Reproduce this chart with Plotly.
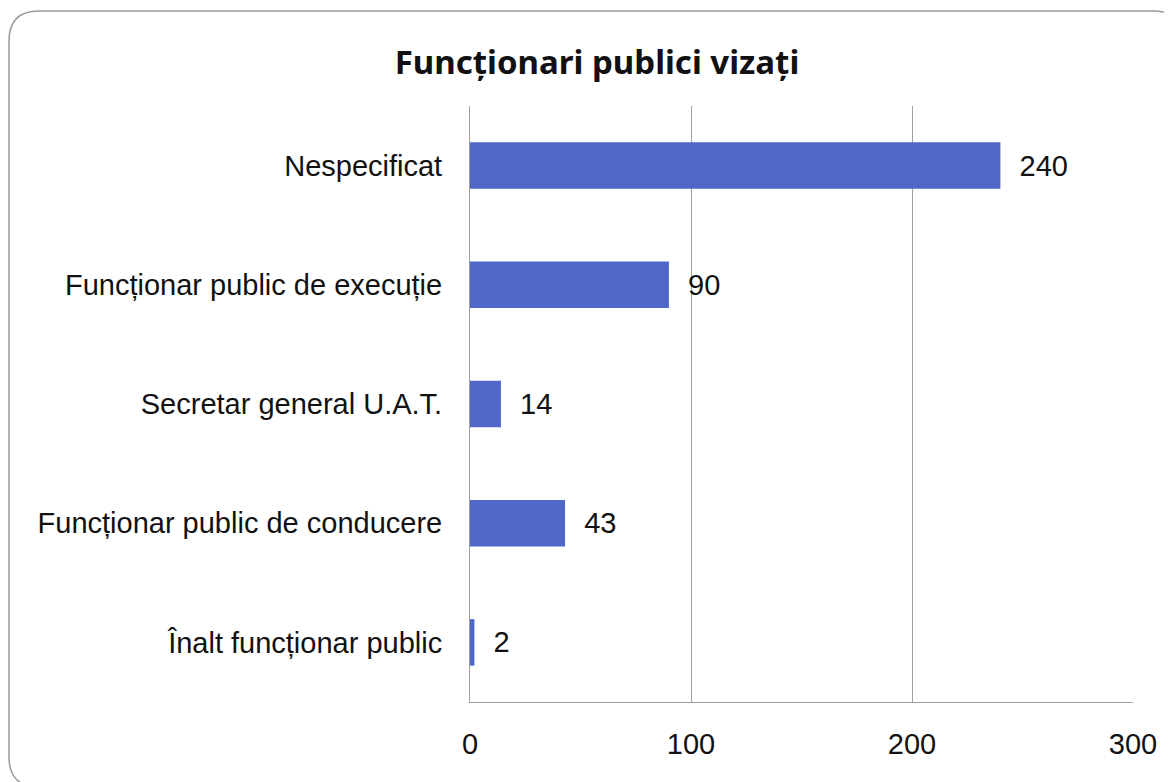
import plotly.graph_objects as go

# date (de jos in sus)
categorii = [
    "Înalt funcționar public",
    "Funcționar public de conducere",
    "Secretar general U.A.T.",
    "Funcționar public de execuție",
    "Nespecificat",
]
valori = [2, 43, 14, 90, 240]
tick_vals = [0, 100, 200, 300]

# pagina html are body margin 8px, deci figura e mai mica cu 8px
W, H = 1164, 774
ML, MR, MT, MB = 462, 39, 98, 80
PW, PH = W - ML - MR, H - MT - MB

FONT = "Liberation Sans, Arial"


def px_to_paper(x, y):
    return (x - ML) / PW, (H - MB - y) / PH


def rounded_box(x0, y0, x1, y1, r):
    # chenar cu colturi rotunjite, coordonate in pixeli -> paper
    def p(x, y):
        a, b = px_to_paper(x, y)
        return f"{a:.5f},{b:.5f}"
    return (
        f"M {p(x0 + r, y0)} L {p(x1 - r, y0)} Q {p(x1, y0)} {p(x1, y0 + r)} "
        f"L {p(x1, y1 - r)} Q {p(x1, y1)} {p(x1 - r, y1)} "
        f"L {p(x0 + r, y1)} Q {p(x0, y1)} {p(x0, y1 - r)} "
        f"L {p(x0, y0 + r)} Q {p(x0, y0)} {p(x0 + r, y0)} Z"
    )


fig = go.Figure(go.Bar(
    x=valori,
    y=categorii,
    orientation="h",
    marker=dict(color="#4F67C9", line=dict(width=0)),
    texttemplate="\u00a0\u00a0%{x}",
    textposition="outside",
    textfont=dict(family=FONT, size=29, color="#111111"),
    cliponaxis=False,
    width=0.39,
    hoverinfo="x+y",
))

fig.update_layout(
    width=W,
    height=H,
    margin=dict(l=ML, r=MR, t=MT, b=MB),
    paper_bgcolor="white",
    plot_bgcolor="white",
    showlegend=False,
    title=dict(
        text="<b>Funcționari publici vizați</b>",
        x=589 / W,
        xanchor="center",
        y=1 - 54 / H,
        yanchor="middle",
        font=dict(family="Noto Sans, Open Sans", size=33, color="#111111"),
    ),
    xaxis=dict(
        range=[0, 300],
        tickvals=tick_vals,
        showgrid=True,
        gridcolor="#a0a0a0",
        gridwidth=1,
        zeroline=False,
        showline=True,
        linecolor="#a0a0a0",
        ticks="",
        ticklabelstandoff=16,
        tickfont=dict(family=FONT, size=29, color="#111111"),
    ),
    yaxis=dict(
        showline=True,
        linecolor="#a0a0a0",
        ticks="",
        ticklabelstandoff=21,
        tickfont=dict(family=FONT, size=29, color="#111111"),
    ),
    shapes=[
        dict(
            type="path",
            xref="paper",
            yref="paper",
            path=rounded_box(1, 3, 1175, 779, 30),
            line=dict(color="#9a9a9a", width=1.5),
            fillcolor="rgba(0,0,0,0)",
            layer="below",
        )
    ],
)

fig.write_html("out.html")
